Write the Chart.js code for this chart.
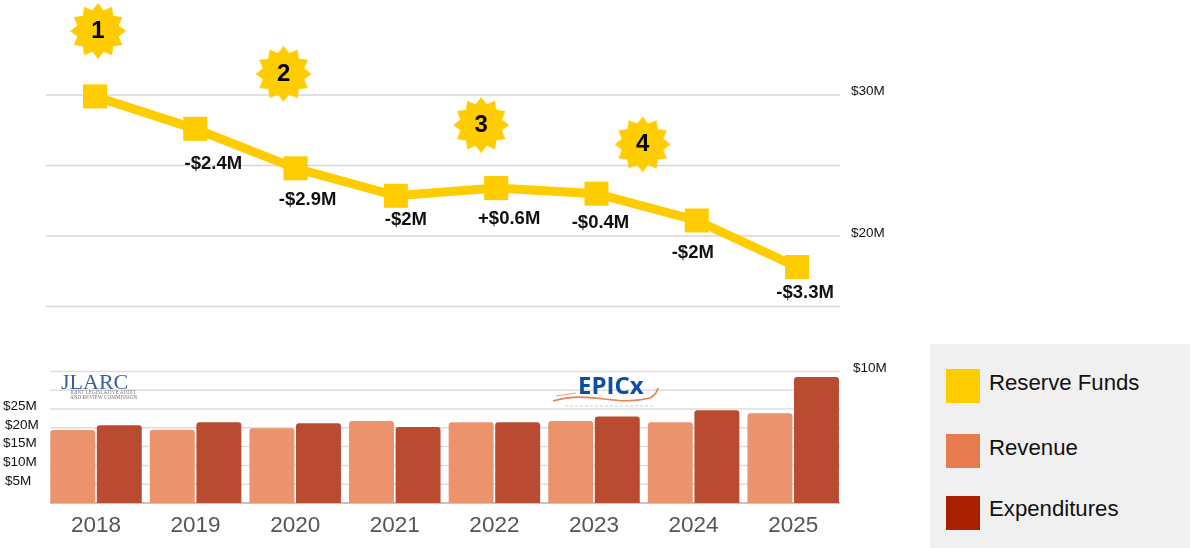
<!DOCTYPE html>
<html><head><meta charset="utf-8">
<style>
html,body{margin:0;padding:0;background:#fff;overflow:hidden}
#wrap{position:relative;width:1190px;height:548px;font-family:"Liberation Sans",Arial,sans-serif}
canvas{position:absolute;left:0;top:0}
#legend{position:absolute;left:930px;top:344px;width:260px;height:204px;background:#f0f0f0}
.sw{position:absolute;left:16px;width:34px;height:34px}
.tx{position:absolute;left:59px;font-size:22.2px;line-height:26px;color:#111;white-space:nowrap}
</style></head><body>
<div id="wrap"><canvas id="c" width="1190" height="548"></canvas>
<div id="legend">
<div class="sw" style="top:25px;background:#ffcc00"></div><div class="tx" style="top:26px">Reserve Funds</div>
<div class="sw" style="top:90px;background:#e67b50"></div><div class="tx" style="top:91px">Revenue</div>
<div class="sw" style="top:152px;background:#a82000"></div><div class="tx" style="top:152px">Expenditures</div>
</div></div>
<script src="https://cdn.jsdelivr.net/npm/chart.js@4"></script>
<script>
const years=['2018','2019','2020','2021','2022','2023','2024','2025'];
const revenue=[19.4,19.5,19.9,21.8,21.5,21.8,21.5,23.9];
const expenditures=[20.7,21.5,21.2,20.2,21.5,23.0,24.7,33.5];
const reserve=[29.9,27.6,24.8,22.85,23.4,23.0,21.1,17.8];
const changeLabels=[null,'-$2.4M','-$2.9M','-$2M','+$0.6M','-$0.4M','-$2M','-$3.3M'];
const callouts=['1','2','3','4'];
const calloutX=[0.03,1.88,3.85,5.46];
const calloutY=[34.54,31.5,27.87,26.5];
const reserveGrid=[30,25,20,15];
const barGrid=[35,30,25,20,15,10,5,0];
const barTickLabels=['$25M','$20M','$15M','$10M','$5M'];
const reserveTickLabels=['$30M','$20M','$10M'];

// placement of the hand-set annotations (pixel offset from their point)
const labelOffset=[null,[18,35],[12,32],[10,24],[13,31],[4,29],[-4,32],[8,26]];
const barLabelPos=[[3,406],[5,425],[3,443],[3,462],[5,481]];
const rightLabelPos=[[851,91],[851,233],[853,368]];

function burst(){
  const c=document.createElement('canvas');c.width=60;c.height=60;
  const g=c.getContext('2d');g.fillStyle='#ffcc00';g.beginPath();
  const n=12;
  for(let i=0;i<n*2;i++){
    const r=i%2?21.5:28,a=-Math.PI/2+i*Math.PI/n;
    g[i?'lineTo':'moveTo'](30+r*Math.cos(a),30+r*Math.sin(a));
  }
  g.closePath();g.fill();return c;
}
const overlay={
  id:'overlay',
  beforeDatasetsDraw(ch){
    const g=ch.ctx,yL=ch.scales.yLine,yB=ch.scales.yBar;
    g.save();
    g.strokeStyle='#d6d6d6';g.lineWidth=1.5;
    reserveGrid.forEach(v=>{const p=yL.getPixelForValue(v);g.beginPath();g.moveTo(46,p);g.lineTo(840,p);g.stroke();});
    barGrid.forEach(v=>{const p=yB.getPixelForValue(v);g.lineWidth=v===0?2:1.5;g.strokeStyle=v===0?'#c4c4c4':'#dedede';g.beginPath();g.moveTo(50,p);g.lineTo(840,p);g.stroke();});
    g.restore();
  },
  afterDatasetsDraw(ch){
    const g=ch.ctx,xL=ch.scales.xLine,yL=ch.scales.yLine;
    g.save();
    g.textBaseline='middle';g.textAlign='center';g.fillStyle='#111';
    g.font='bold 18.5px "Liberation Sans",Arial,sans-serif';
    changeLabels.forEach((t,i)=>{if(!t)return;const o=labelOffset[i];
      g.fillText(t,xL.getPixelForValue(i)+o[0],yL.getPixelForValue(reserve[i])+o[1]);});
    g.fillStyle='#000';g.font='bold 24px "Liberation Sans",Arial,sans-serif';
    callouts.forEach((t,i)=>g.fillText(t,xL.getPixelForValue(calloutX[i]),yL.getPixelForValue(calloutY[i])+0.5));
    g.textAlign='left';g.fillStyle='#111';g.font='13.5px "Liberation Sans",Arial,sans-serif';
    barTickLabels.forEach((t,i)=>g.fillText(t,barLabelPos[i][0],barLabelPos[i][1]));
    reserveTickLabels.forEach((t,i)=>g.fillText(t,rightLabelPos[i][0],rightLabelPos[i][1]));
    // JLARC mark
    g.fillStyle='#3a5f9e';g.font='22px "Liberation Serif",serif';g.textBaseline='alphabetic';
    g.fillText('JLARC',61,389);
    g.fillStyle='#777';g.font='5.2px "Liberation Serif",serif';
    g.fillText('JOINT LEGISLATIVE AUDIT',70,394);
    g.fillText('AND REVIEW COMMISSION',70,399);
    // EPICx mark
    g.fillStyle='#0b4ea2';g.font='bold 24px "Open Sans",sans-serif';
    g.fillText('EPICx',578,394);
    g.strokeStyle='#e8835a';g.lineWidth=1.6;g.beginPath();g.moveTo(553,401);
    g.bezierCurveTo(590,390,615,407,650,398);g.quadraticCurveTo(657,394,658,388);g.stroke();
    g.lineWidth=0.8;g.beginPath();g.moveTo(556,396);g.lineTo(576,393);g.stroke();
    g.strokeStyle='#bcd3ea';g.lineWidth=1;g.setLineDash([3,2]);g.beginPath();g.moveTo(565,406);g.lineTo(655,406);g.stroke();
    g.restore();
  }
};
new Chart(document.getElementById('c'),{
  type:'bar',
  data:{labels:years,datasets:[
    {type:'line',label:'Reserve Funds',xAxisID:'xLine',yAxisID:'yLine',order:1,
     data:reserve.map((v,i)=>({x:i,y:v})),borderColor:'#ffcc00',backgroundColor:'#ffcc00',borderWidth:9,
     pointStyle:'rect',pointRadius:17,pointBackgroundColor:'#ffcc00',pointBorderWidth:0,tension:0,clip:false},
    {type:'scatter',label:'Callouts',xAxisID:'xLine',yAxisID:'yLine',order:2,
     data:calloutX.map((x,i)=>({x,y:calloutY[i]})),pointStyle:burst(),pointRadius:30,showLine:false,clip:false},
    {label:'Revenue',xAxisID:'x',yAxisID:'yBar',order:3,data:revenue,backgroundColor:'#ea936d',borderRadius:{topLeft:3,topRight:3},categoryPercentage:1.87,barPercentage:0.965},
    {label:'Expenditures',xAxisID:'x',yAxisID:'yBar',order:3,data:expenditures,backgroundColor:'#b84b30',borderRadius:{topLeft:3,topRight:3},categoryPercentage:1.87,barPercentage:0.965}
  ]},
  options:{
    responsive:false,animation:false,
    layout:{autoPadding:false,padding:{left:46.2,right:347,top:0,bottom:0}},
    plugins:{legend:{display:false},tooltip:{enabled:false}},
    scales:{
      x:{type:'category',offset:true,grid:{display:false},border:{display:false},
         afterFit(s){s.height=45;},
         ticks:{color:'#555',font:{size:22.5,family:'"Liberation Sans",Arial,sans-serif'},padding:1,maxRotation:0,autoSkip:false}},
      xLine:{type:'linear',display:false,offset:false,min:-0.4865,max:7.458},
      yLine:{type:'linear',display:false,min:1.06,max:36.74},
      yBar:{type:'linear',display:false,min:0,max:133.8}
    }
  },
  plugins:[overlay]
});
</script></body></html>
